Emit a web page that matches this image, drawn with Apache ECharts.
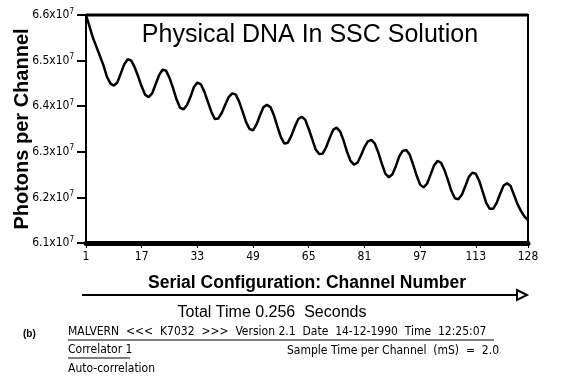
<!DOCTYPE html>
<html><head><meta charset="utf-8">
<script src="https://cdn.jsdelivr.net/npm/echarts@6/dist/echarts.min.js"></script>
<style>html,body{margin:0;padding:0;background:#fff}#c{width:572px;height:383px}</style>
</head><body><div id="c"></div>
<script>
// Channel numbers 1..128
const channels = Array.from({length:128},(_,i)=>String(i+1));
// Photons per channel, in units of 10^7
const photons = [
6.600,6.575,6.550,6.530,6.510,6.490,6.465,6.450,6.445,6.452,
6.472,6.492,6.503,6.500,6.485,6.465,6.443,6.425,6.420,6.428,
6.448,6.468,6.480,6.478,6.462,6.440,6.415,6.397,6.393,6.402,
6.420,6.442,6.452,6.448,6.432,6.410,6.388,6.372,6.373,6.385,
6.403,6.420,6.428,6.426,6.410,6.388,6.365,6.350,6.347,6.360,
6.380,6.398,6.403,6.398,6.380,6.355,6.332,6.318,6.320,6.335,
6.355,6.372,6.377,6.370,6.350,6.328,6.305,6.295,6.296,6.310,
6.330,6.348,6.353,6.345,6.325,6.300,6.280,6.272,6.276,6.292,
6.310,6.323,6.326,6.318,6.298,6.274,6.252,6.244,6.250,6.268,
6.290,6.302,6.304,6.294,6.272,6.248,6.228,6.222,6.230,6.250,
6.270,6.280,6.276,6.260,6.238,6.214,6.198,6.196,6.206,6.225,
6.245,6.254,6.252,6.236,6.212,6.188,6.175,6.175,6.188,6.208,
6.226,6.231,6.225,6.205,6.185,6.170,6.158,6.150];
const xTickLabels = ['1','17','33','49','65','81','97','113','128'];
const yMin = 6.1, yMax = 6.6, yStep = 0.1;

const titleText = 'Physical DNA In SSC Solution';
const yTitle = 'Photons per Channel';
const xTitle = 'Serial Configuration: Channel Number';
const totalTime = 'Total Time 0.256  Seconds';
const headerLine = 'MALVERN  <<<  K7032  >>>  Version 2.1  Date  14-12-1990  Time  12:25:07';
const correlator = 'Correlator 1';
const sampleTime = 'Sample Time per Channel  (mS)  =  2.0';
const autoCorr = 'Auto-correlation';
const panelLabel = '(b)';

const narrow = '"Liberation Sans Narrow","DejaVu Sans Condensed","Liberation Sans",sans-serif';
const sans = '"Liberation Sans",Arial,sans-serif';

const chart = echarts.init(document.getElementById('c'));
chart.setOption({
  animation:false,
  backgroundColor:'#fff',
  grid:{left:86,right:44,top:15,bottom:140,show:true,borderColor:'#000',borderWidth:2,
    containLabel:false,outerBoundsMode:'none'},
  title:{text:titleText,left:305,top:18,textAlign:'center',
    textStyle:{fontFamily:sans,fontWeight:'normal',fontSize:25,color:'#000'}},
  xAxis:{type:'category',data:channels,boundaryGap:false,
    name:xTitle,nameLocation:'middle',nameGap:31,nameMoveOverlap:false,
    nameTextStyle:{fontFamily:sans,fontWeight:'bold',fontSize:17.5,color:'#000'},
    axisLine:{lineStyle:{color:'#000',width:5}},
    axisTick:{length:5,lineStyle:{color:'#000',width:1},
      interval:(i,v)=>xTickLabels.indexOf(v)>=0},
    axisLabel:{interval:(i,v)=>xTickLabels.indexOf(v)>=0,margin:8,
      fontFamily:narrow,fontSize:12,color:'#000'},
    splitLine:{show:false}},
  yAxis:{type:'value',min:yMin,max:yMax,interval:yStep,
    name:yTitle,nameLocation:'middle',nameGap:54,nameRotate:90,nameMoveOverlap:false,
    nameTextStyle:{fontFamily:sans,fontWeight:'bold',fontSize:20,color:'#000'},
    axisLine:{show:true,lineStyle:{color:'#000',width:2}},
    axisTick:{show:true,length:9,lineStyle:{color:'#000',width:2}},
    axisLabel:{margin:12,fontFamily:narrow,fontSize:12,color:'#000',
      formatter:v=>v.toFixed(1)+'x10{s|7}',
      rich:{s:{fontSize:8,fontFamily:narrow,color:'#000',verticalAlign:'top',padding:[0,0,7,0]}}},
    splitLine:{show:false}},
  series:[{type:'line',data:photons,symbol:'none',
    lineStyle:{color:'#000',width:2.5}}],
  graphic:[
    {type:'line',shape:{x1:86,y1:15,x2:528,y2:15},style:{stroke:'#000',lineWidth:3}},
    {type:'line',shape:{x1:82,y1:295,x2:518,y2:295},style:{stroke:'#000',lineWidth:2}},
    {type:'polygon',shape:{points:[[517,290],[527,295],[517,300]]},style:{fill:'#fff',stroke:'#000',lineWidth:2}},
    {type:'text',x:272,y:313,style:{text:totalTime,fontFamily:sans,fontSize:16,fill:'#000',align:'center',verticalAlign:'middle'}},
    {type:'text',x:23,y:334,style:{text:panelLabel,fontFamily:sans,fontWeight:'bold',fontSize:10,fill:'#000',verticalAlign:'middle'}},
    {type:'text',x:68,y:332,style:{text:headerLine,fontFamily:narrow,fontSize:12,fill:'#000',verticalAlign:'middle'}},
    {type:'line',shape:{x1:68,y1:340,x2:494,y2:340},style:{stroke:'#000',lineWidth:1}},
    {type:'text',x:68,y:350,style:{text:correlator,fontFamily:narrow,fontSize:12,fill:'#000',verticalAlign:'middle'}},
    {type:'line',shape:{x1:68,y1:358,x2:130,y2:358},style:{stroke:'#000',lineWidth:1}},
    {type:'text',x:287,y:351,style:{text:sampleTime,fontFamily:narrow,fontSize:12,fill:'#000',verticalAlign:'middle'}},
    {type:'text',x:68,y:369,style:{text:autoCorr,fontFamily:narrow,fontSize:12,fill:'#000',verticalAlign:'middle'}}
  ]
});
</script></body></html>
